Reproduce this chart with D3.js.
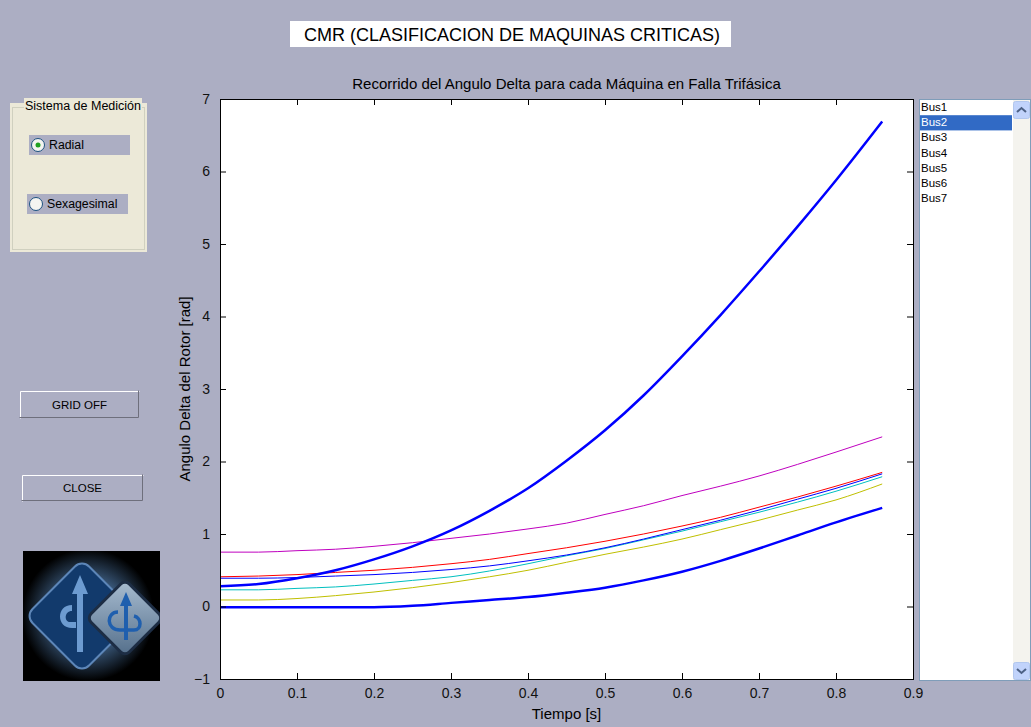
<!DOCTYPE html>
<html>
<head>
<meta charset="utf-8">
<script src="https://cdn.jsdelivr.net/npm/d3@7"></script>
<style>
  body { margin: 0; background: #acaec3; overflow: hidden; }
  svg { display: block; font-family: "Liberation Sans", Arial, sans-serif; }
</style>
</head>
<body>
<script>
(function() {

var time   = [0, 0.05, 0.1, 0.15, 0.2, 0.25, 0.3, 0.35, 0.4, 0.45, 0.5, 0.55, 0.6, 0.65, 0.7, 0.75, 0.8, 0.86],
    bus1   = [-0.01, -0.01, -0.01, -0.01, -0.01, 0.01, 0.05, 0.09, 0.13, 0.19, 0.26, 0.36, 0.48, 0.63, 0.80, 0.98, 1.16, 1.36],
    bus2   = [0.28, 0.31, 0.39, 0.50, 0.65, 0.83, 1.05, 1.32, 1.63, 2.01, 2.43, 2.91, 3.45, 4.02, 4.62, 5.24, 5.88, 6.69],
    bus3   = [0.41, 0.42, 0.44, 0.47, 0.50, 0.54, 0.59, 0.65, 0.73, 0.81, 0.90, 1.00, 1.11, 1.23, 1.37, 1.51, 1.66, 1.85],
    bus4   = [0.23, 0.23, 0.25, 0.27, 0.31, 0.36, 0.41, 0.49, 0.59, 0.70, 0.80, 0.92, 1.04, 1.17, 1.30, 1.44, 1.59, 1.79],
    bus5   = [0.75, 0.75, 0.77, 0.79, 0.83, 0.88, 0.94, 1.00, 1.07, 1.15, 1.27, 1.39, 1.53, 1.66, 1.80, 1.96, 2.13, 2.34],
    bus6   = [0.09, 0.09, 0.11, 0.15, 0.20, 0.26, 0.33, 0.41, 0.50, 0.61, 0.72, 0.82, 0.93, 1.06, 1.19, 1.33, 1.47, 1.69],
    bus7   = [0.39, 0.39, 0.40, 0.42, 0.44, 0.47, 0.51, 0.56, 0.63, 0.71, 0.81, 0.93, 1.06, 1.19, 1.33, 1.48, 1.63, 1.83],
    buses  = ["Bus1", "Bus2", "Bus3", "Bus4", "Bus5", "Bus6", "Bus7"],
    xticks = [0, 0.1, 0.2, 0.3, 0.4, 0.5, 0.6, 0.7, 0.8, 0.9],
    yticks = [-1, 0, 1, 2, 3, 4, 5, 6, 7],
    selected = "Bus2",
    width  = 1031, height = 727,
    bg     = "#acaec3",
    box    = { left: 220, right: 913, top: 99, bottom: 679 },
    svg, plot, x, y;

var series = [
  { name: "Bus5", values: bus5, color: "#bf00bf", w: 1 },
  { name: "Bus3", values: bus3, color: "#ff0000", w: 1 },
  { name: "Bus6", values: bus6, color: "#bfbf00", w: 1 },
  { name: "Bus4", values: bus4, color: "#00bfbf", w: 1 },
  { name: "Bus7", values: bus7, color: "#0000ff", w: 1 },
  { name: "Bus1", values: bus1, color: "#0000ff", w: 2.5 },
  { name: "Bus2", values: bus2, color: "#0000ff", w: 2.5 }
];

function bevel(g, x0, y0, w, h, fill) {
  g.append("rect").attr("x", x0).attr("y", y0).attr("width", w).attr("height", h).attr("fill", fill);
  g.append("path").attr("d", "M" + x0 + "," + (y0 + h) + "V" + y0 + "H" + (x0 + w))
    .attr("stroke", "#ffffff").attr("fill", "none").attr("transform", "translate(0.5,0.5)");
  g.append("path").attr("d", "M" + x0 + "," + (y0 + h) + "H" + (x0 + w) + "V" + y0)
    .attr("stroke", "#6e6f7c").attr("fill", "none").attr("transform", "translate(-0.5,-0.5)");
}

function draw_header() {
  svg.append("rect").attr("x", 290).attr("y", 21).attr("width", 441).attr("height", 26).attr("fill", "#ffffff");
  svg.append("text").attr("x", 512).attr("y", 41).attr("text-anchor", "middle")
    .attr("font-size", 18).attr("fill", "#000").text("CMR (CLASIFICACION DE MAQUINAS CRITICAS)");
}

function draw_panel() {
  var g = svg.append("g");
  g.append("rect").attr("x", 10).attr("y", 103).attr("width", 137).attr("height", 149)
    .attr("fill", "#ece9d8");
  g.append("rect").attr("x", 12.5).attr("y", 107.5).attr("width", 132).attr("height", 142)
    .attr("fill", "none").attr("stroke", "#d0d0bf");
  g.append("rect").attr("x", 24).attr("y", 98).attr("width", 118).attr("height", 16).attr("fill", "#ece9d8");
  g.append("text").attr("x", 83).attr("y", 110).attr("text-anchor", "middle")
    .attr("font-size", 12.5).attr("fill", "#000").text("Sistema de Medición");

  [{ label: "Radial", x: 29, y: 135, w: 101, on: true },
   { label: "Sexagesimal", x: 27, y: 194, w: 101, on: false }].forEach(function(r) {
    g.append("rect").attr("x", r.x).attr("y", r.y).attr("width", r.w).attr("height", 20).attr("fill", bg);
    g.append("circle").attr("cx", r.x + 9).attr("cy", r.y + 10).attr("r", 6.5)
      .attr("fill", "#f4f4f0").attr("stroke", "#1c5180");
    if (r.on)
      g.append("circle").attr("cx", r.x + 9).attr("cy", r.y + 10).attr("r", 2.5).attr("fill", "#21a121");
    g.append("text").attr("x", r.x + 20).attr("y", r.y + 14).attr("font-size", 12.3)
      .attr("fill", "#000").text(r.label);
  });
}

function draw_buttons() {
  [{ label: "GRID OFF", x: 20, y: 391, w: 119, h: 27 },
   { label: "CLOSE", x: 22, y: 475, w: 121, h: 26 }].forEach(function(b) {
    var g = svg.append("g");
    bevel(g, b.x, b.y, b.w, b.h, bg);
    g.append("text").attr("x", b.x + b.w / 2).attr("y", b.y + b.h / 2 + 4).attr("text-anchor", "middle")
      .attr("font-size", 11.5).attr("fill", "#000").text(b.label);
  });
}

function draw_logo() {
  var defs = svg.append("defs"),
      rg = defs.append("radialGradient").attr("id", "halo"),
      lg = defs.append("linearGradient").attr("id", "metal")
             .attr("x1", 0).attr("y1", 0).attr("x2", 1).attr("y2", 1);
  rg.append("stop").attr("offset", "50%").attr("stop-color", "#3e5f84");
  rg.append("stop").attr("offset", "100%").attr("stop-color", "#000000");
  lg.append("stop").attr("offset", "0%").attr("stop-color", "#a9bdd1");
  lg.append("stop").attr("offset", "100%").attr("stop-color", "#536e8a");
  defs.append("clipPath").attr("id", "logoclip")
    .append("rect").attr("x", 23).attr("y", 551).attr("width", 137).attr("height", 130);

  var g = svg.append("g").attr("clip-path", "url(#logoclip)");
  g.append("rect").attr("x", 23).attr("y", 551).attr("width", 137).attr("height", 130).attr("fill", "#000");
  g.append("circle").attr("cx", 88).attr("cy", 615).attr("r", 66).attr("fill", "url(#halo)");
  g.append("rect").attr("x", -40).attr("y", -40).attr("width", 80).attr("height", 80).attr("rx", 10)
    .attr("transform", "translate(82,616) rotate(45)")
    .attr("fill", "#123a6c").attr("stroke", "#5d86b8").attr("stroke-width", 2);
  g.append("rect").attr("x", -27).attr("y", -27).attr("width", 54).attr("height", 54).attr("rx", 6)
    .attr("transform", "translate(125,618) rotate(45)")
    .attr("fill", "url(#metal)").attr("stroke", "#1d2d44").attr("stroke-width", 3);
  g.append("path").attr("d", "M80,575 L88,594 L83,594 L83,652 L77,652 L77,594 L72,594 Z").attr("fill", "#6d9bd0");
  g.append("path").attr("d", "M72,605 C56,605 56,628 72,628 L76,628 L76,622 L70,622 C64,622 64,611 72,611 Z").attr("fill", "#6d9bd0");
  g.append("path").attr("d", "M126,592 L132,606 L128,606 L128,640 L124,640 L124,606 L120,606 Z").attr("fill", "#1f5fae");
  g.append("path").attr("d", "M118,612 C106,612 106,630 120,630 L134,630 C142,630 142,618 134,616").attr("fill", "none")
    .attr("stroke", "#1f5fae").attr("stroke-width", 3.5);
}

function draw_listbox() {
  var g = svg.append("g"), row = 15.2;
  g.append("rect").attr("x", 919.5).attr("y", 99.5).attr("width", 111).attr("height", 581)
    .attr("fill", "#ffffff").attr("stroke", "#7f9db9");
  g.append("rect").attr("x", 1013).attr("y", 100).attr("width", 17).attr("height", 580).attr("fill", "#f4f3ee");
  g.selectAll("rect.sel").data(buses.filter(function(d) { return d == selected; })).enter()
    .append("rect").attr("class", "sel")
    .attr("x", 920).attr("y", function(d) { return 100 + buses.indexOf(d) * row; })
    .attr("width", 92).attr("height", row).attr("fill", "#316ac5");
  g.selectAll("text.bus").data(buses).enter().append("text").attr("class", "bus")
    .attr("x", 921).attr("y", function(d, i) { return 111 + i * row; })
    .attr("font-size", 11.5)
    .attr("fill", function(d) { return d == selected ? "#fff" : "#000"; })
    .text(function(d) { return d; });
  [{ y: 101, up: true }, { y: 662, up: false }].forEach(function(b) {
    g.append("rect").attr("x", 1013.5).attr("y", b.y + 0.5).attr("width", 16).attr("height", 17).attr("rx", 2)
      .attr("fill", "#c1d3fb").attr("stroke", "#b2c7ee");
    var cy = b.y + 9, d = b.up ? "M1017," + (cy + 2) + "L1021.5," + (cy - 2) + "L1026," + (cy + 2)
                                 : "M1017," + (cy - 2) + "L1021.5," + (cy + 2) + "L1026," + (cy - 2);
    g.append("path").attr("d", d).attr("fill", "none").attr("stroke", "#4d6185").attr("stroke-width", 2);
  });
}

function draw_plot() {
  x = d3.scaleLinear().domain([0, 0.9]).range([box.left, box.right]);
  y = d3.scaleLinear().domain([-1, 7]).range([box.bottom, box.top]);

  plot = svg.append("g");
  plot.append("rect").attr("x", box.left).attr("y", box.top)
    .attr("width", box.right - box.left).attr("height", box.bottom - box.top).attr("fill", "#fff");

  var line = d3.line()
    .x(function(d) { return x(d[0]); })
    .y(function(d) { return y(d[1]); })
    .curve(d3.curveMonotoneX);

  plot.selectAll("path.bus").data(series).enter().append("path").attr("class", "bus")
    .attr("d", function(s) { return line(s.values.map(function(v, i) { return [time[i], v]; })); })
    .attr("fill", "none")
    .attr("stroke", function(s) { return s.color; })
    .attr("stroke-width", function(s) { return s.w; });

  var ax = function(a) {
    a.selectAll(".domain").remove();
    a.selectAll("line").attr("stroke", "#000");
    a.selectAll("text").attr("font-size", 14).attr("fill", "#111")
      .attr("font-family", "'Liberation Sans', Arial, sans-serif");
  };
  plot.append("g").attr("transform", "translate(0," + box.bottom + ")")
    .call(d3.axisBottom(x).tickValues(xticks).tickSize(-6).tickPadding(9)
      .tickFormat(function(d) { return d3.format("")(+d.toFixed(1)); }))
    .call(ax);
  plot.append("g").attr("transform", "translate(0," + box.top + ")")
    .call(d3.axisTop(x).tickValues(xticks).tickSize(-6).tickFormat(""))
    .call(ax);
  plot.append("g").attr("transform", "translate(" + box.left + ",0)")
    .call(d3.axisLeft(y).tickValues(yticks).tickSize(-6).tickPadding(10))
    .call(ax);
  plot.append("g").attr("transform", "translate(" + box.right + ",0)")
    .call(d3.axisRight(y).tickValues(yticks).tickSize(-6).tickFormat(""))
    .call(ax);

  plot.append("rect").attr("x", box.left + 0.5).attr("y", box.top + 0.5)
    .attr("width", box.right - box.left).attr("height", box.bottom - box.top)
    .attr("fill", "none").attr("stroke", "#000");

  plot.append("text").attr("x", (box.left + box.right) / 2).attr("y", 89).attr("text-anchor", "middle")
    .attr("font-size", 15).text("Recorrido del Angulo Delta para cada Máquina en Falla Trifásica");
  plot.append("text").attr("x", (box.left + box.right) / 2).attr("y", 719).attr("text-anchor", "middle")
    .attr("font-size", 15).text("Tiempo [s]");
  plot.append("text").attr("transform", "translate(190," + ((box.top + box.bottom) / 2) + ") rotate(-90)")
    .attr("text-anchor", "middle").attr("font-size", 15).text("Angulo Delta del Rotor [rad]");
}

/* main */
svg = d3.select("body").append("svg").attr("width", width).attr("height", height);
svg.append("rect").attr("width", width).attr("height", height).attr("fill", bg);
draw_header();
draw_panel();
draw_buttons();
draw_logo();
draw_listbox();
draw_plot();

}());
</script>
</body>
</html>
